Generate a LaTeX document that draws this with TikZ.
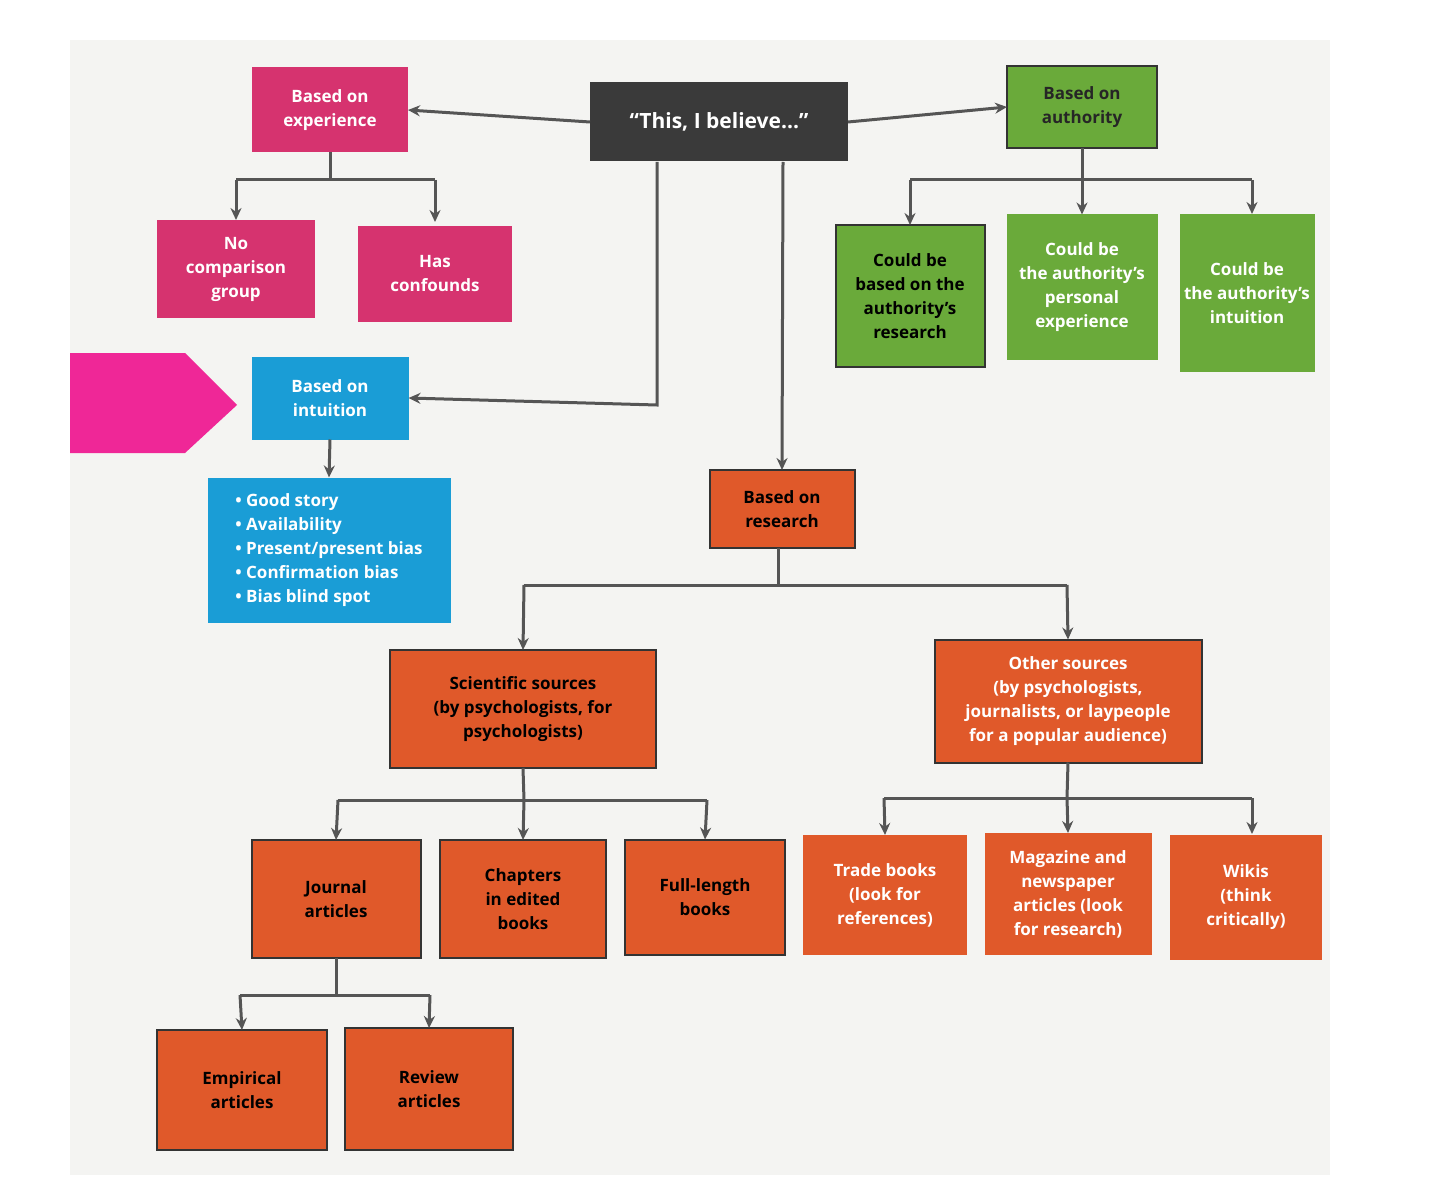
\documentclass[tikz,border=0pt]{standalone}
\usepackage{fontspec}
\setmainfont{Open Sans}
\usetikzlibrary{arrows.meta}
\definecolor{pinkb}{HTML}{D6336F}
\definecolor{greenb}{HTML}{6AAA3A}
\definecolor{blueb}{HTML}{1A9DD6}
\definecolor{orangeb}{HTML}{E0592A}
\definecolor{darkb}{HTML}{3A3A3A}
\definecolor{linec}{HTML}{555555}
\definecolor{pagec}{HTML}{F4F4F2}
\begin{document}
\begin{tikzpicture}[x=1pt,y=-1pt,
 box/.style={inner sep=2pt,outer sep=0pt,align=center,font=\fontsize{17}{24}\selectfont\bfseries},
 pinkbox/.style={box,fill=pinkb,text=white},
 greenbox/.style={box,fill=greenb,text=white},
 bluebox/.style={box,fill=blueb,text=white},
 orangebox/.style={box,fill=orangeb,text=black,draw=black!80,line width=2pt},
 conn/.style={draw=linec,line width=3pt},
 arr/.style={conn,-{Stealth[length=12pt,width=11pt]}}]
\useasboundingbox (0,0) rectangle (1440,1198);
\fill[pagec] (70,40) rectangle (1330,1175);
\fill[magenta!80!pink] (70,353) -- (185,353) -- (237,405) -- (185,453) -- (70,453) -- cycle;
\node[box,fill=darkb,text=white,minimum width=258pt,minimum height=79pt,font=\fontsize{21}{26}\selectfont\bfseries] (bel) at (719,122) {“This, I believe...”};
\node[pinkbox,minimum width=156pt,minimum height=85pt] (exp) at (330,110) {Based on\\experience};
\node[greenbox,text=black!85,draw=black!80,line width=2pt,minimum width=150pt,minimum height=82pt] (auth) at (1082,107) {Based on\\authority};
\node[pinkbox,minimum width=158pt,minimum height=98pt] (nocomp) at (236,269) {No\\comparison\\group};
\node[pinkbox,minimum width=154pt,minimum height=96pt] (conf) at (435,274) {Has\\confounds};
\node[greenbox,text=black,draw=black!80,line width=2pt,minimum width=149pt,minimum height=142pt] (ares) at (910,296) {Could be\\based on the\\authority’s\\research};
\node[greenbox,minimum width=151pt,minimum height=145pt] (apers) at (1082,287) {Could be\\the authority’s\\personal\\experience};
\node[greenbox,minimum width=135pt,minimum height=157pt] (aint) at (1247,293) {Could be\\the authority’s\\intuition};
\node[bluebox,minimum width=157pt,minimum height=83pt] (intu) at (330,398) {Based on\\intuition};
\node[bluebox,minimum width=243pt,minimum height=145pt,align=left] (bul) at (329,550) {• Good story\\• Availability\\• Present/present bias\\• Confirmation bias\\• Bias blind spot};
\node[orangebox,minimum width=145pt,minimum height=78pt] (res) at (782,509) {Based on\\research};
\node[orangebox,minimum width=266pt,minimum height=118pt] (sci) at (523,709) {Scientific sources\\(by psychologists, for\\psychologists)};
\node[orangebox,text=white,minimum width=267pt,minimum height=123pt] (oth) at (1068,701) {Other sources\\(by psychologists,\\journalists, or laypeople\\for a popular audience)};
\node[orangebox,minimum width=169pt,minimum height=118pt] (jou) at (336,899) {Journal\\articles};
\node[orangebox,minimum width=166pt,minimum height=118pt] (chap) at (523,899) {Chapters\\in edited\\books};
\node[orangebox,minimum width=160pt,minimum height=115pt] (full) at (705,897) {Full-length\\books};
\node[orangebox,text=white,draw=none,minimum width=164pt,minimum height=120pt] (trade) at (885,895) {Trade books\\(look for\\references)};
\node[orangebox,text=white,draw=none,minimum width=167pt,minimum height=122pt] (mag) at (1068,894) {Magazine and\\newspaper\\articles (look\\for research)};
\node[orangebox,text=white,draw=none,minimum width=152pt,minimum height=125pt] (wik) at (1246,897) {Wikis\\(think\\critically)};
\node[orangebox,minimum width=170pt,minimum height=120pt] (emp) at (242,1090) {Empirical\\articles};
\node[orangebox,minimum width=168pt,minimum height=122pt] (rev) at (429,1089) {Review\\articles};
% connectors
\draw[arr] (bel.west) -- (exp.east);
\draw[arr] (bel.east) -- (auth.west);
\coordinate (e1) at (330,180);
\draw[conn] (exp.south) -- (e1);
\draw[arr] (236,180) -- (nocomp.north);
\draw[arr] (435,180) -- (435,222);
\draw[conn] (236,180) -- (435,180);
\coordinate (a1) at (1082,180);
\draw[conn] (auth.south) -- (a1);
\draw[conn] (910,180) -- (1252,180);
\draw[arr] (910,180) -- (ares.north);
\draw[arr] (a1) -- (apers.north);
\draw[arr] (1252,180) -- (1252,214);
\draw[arr] (657,162) -- (657,405) -- (intu.east);
\draw[arr] (783,162) -- (res.north);
\draw[arr] (intu.south) -- (bul.north);
\coordinate (r1) at (778,585);
\draw[conn] (778,548) -- (r1);
\draw[conn] (524,585) -- (1067,585);
\draw[arr] (524,585) -- (sci.north);
\draw[arr] (1067,585) -- (oth.north);
\coordinate (s1) at (524,800);
\draw[conn] (sci.south) -- (s1);
\draw[conn] (338,800) -- (707,800);
\draw[arr] (338,800) -- (jou.north);
\draw[arr] (s1) -- (chap.north);
\draw[arr] (707,800) -- (full.north);
\coordinate (o1) at (1067,798);
\draw[conn] (oth.south) -- (o1);
\draw[conn] (884,798) -- (1252,798);
\draw[arr] (884,798) -- (trade.north);
\draw[arr] (o1) -- (mag.north);
\draw[arr] (1252,798) -- (1252,834);
\coordinate (j1) at (336,995);
\draw[conn] (jou.south) -- (j1);
\draw[conn] (240,995) -- (430,995);
\draw[arr] (240,995) -- (emp.north);
\draw[arr] (430,995) -- (rev.north);
\end{tikzpicture}
\end{document}
